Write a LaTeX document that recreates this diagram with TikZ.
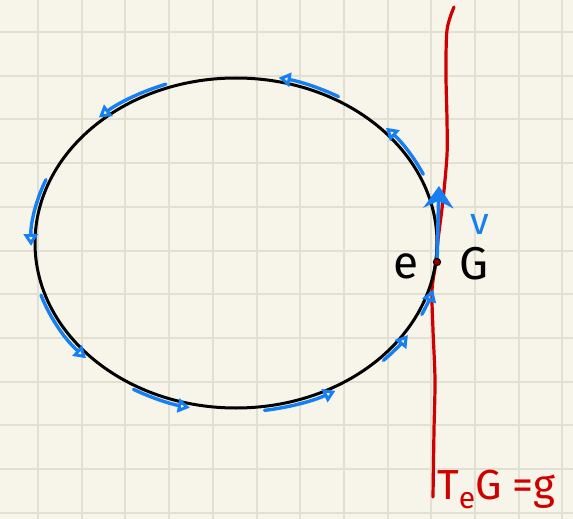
\documentclass[tikz,border=0pt]{standalone}
\usepackage{fontspec}
\newfontfamily\hand{Fira Sans}
\usetikzlibrary{arrows.meta}
\definecolor{paper}{RGB}{247,244,233}
\definecolor{gridc}{RGB}{226,223,211}
\definecolor{pen}{RGB}{22,128,242}
\definecolor{ink}{RGB}{208,0,0}

\begin{document}
\begin{tikzpicture}[x=1pt,y=-1pt,line cap=round,line join=round,
  flow/.style={pen,line width=3.4pt,-{Triangle[open,length=12pt,width=14pt]}},
  tangent/.style={ink,line width=3.2pt},
  lbl/.style={inner sep=0pt,font=\hand\fontsize{46}{46}\selectfont}]
\fill[paper] (0,0) rectangle (573,519);
\useasboundingbox (0,0) rectangle (573,519);
\foreach \i in {0,...,12} \draw[gridc,line width=2pt] (38+43.7*\i,0)--++(0,519);
\foreach \j in {0,...,11} \draw[gridc,line width=2pt] (0,32+43.7*\j)--++(573,0);
% the line T_eG
\draw[tangent] plot[smooth] coordinates {(454,7) (447,30) (446,75) (447,120) (447,155) (443,200) (438,240) (436,262) (432,290) (433,330) (435,380) (434,430) (433,497)};
% the group G
\draw[line width=3pt] (236,243) ellipse [x radius=201,y radius=165];
\foreach \a/\b in {-110/-132,-60/-78,-24/-43,202/179,162/137,120/103,82/61,44/33,25/16}
  \draw[flow] (236,243) ++(\a:205 and 169) arc[start angle=\a,end angle=\b,x radius=205,y radius=169];
\coordinate (e0) at (437,262);
\draw[pen,line width=3.6pt,-{Stealth[length=22pt,width=30pt]}] (e0) -- (439,186) coordinate (vtip);
\fill[ink!70!black,draw=black,line width=1pt] (e0) circle (3.6);
\node[lbl] (e) at (406,266) {e};
\node[lbl] (G) at (474,264) {G};
\node[lbl,pen,font=\hand\fontsize{38}{38}\selectfont] (v) at (480,224) {v};
\node[ink,anchor=base west,inner sep=0pt,font=\hand\fontsize{42}{42}\selectfont] (TeG) at (437,499)
  {T\raisebox{-9pt}{\fontsize{30}{30}\selectfont e}G =g};
\end{tikzpicture}
\end{document}
